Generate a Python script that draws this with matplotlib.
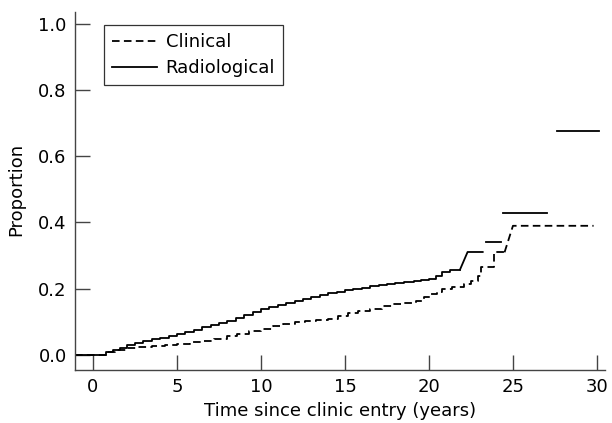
import matplotlib.pyplot as plt

# radiological progression (solid), step part
rad_t = [-1.07, 0.8, 1.2, 1.6, 2.0, 2.5, 3.0, 3.5, 4.0, 4.5, 5.0, 5.5, 6.0, 6.5, 7.0,
         7.5, 8.0, 8.5, 9.0, 9.5, 10.0, 10.5, 11.0, 11.5, 12.0, 12.5, 13.0, 13.5,
         14.0, 14.5, 15.0, 15.5, 16.0, 16.5, 17.0, 17.5, 18.0, 18.5, 19.1, 19.5,
         20.0, 20.4, 20.75, 21.25, 21.85]
rad_v = [0, 0.008, 0.015, 0.022, 0.030, 0.036, 0.043, 0.048, 0.053, 0.059, 0.065,
         0.071, 0.077, 0.084, 0.091, 0.097, 0.104, 0.112, 0.120, 0.130, 0.139,
         0.146, 0.152, 0.158, 0.164, 0.170, 0.176, 0.181, 0.186, 0.190, 0.195,
         0.200, 0.203, 0.207, 0.211, 0.214, 0.217, 0.220, 0.225, 0.227, 0.230,
         0.238, 0.250, 0.258, 0.258]
# radiological tail pieces
rad_tail_t = [21.85, 22.3, 23.2]
rad_tail_v = [0.258, 0.311, 0.311]
rad_seg_t = [[23.4, 24.3], [24.4, 27.0], [27.6, 30.1]]
rad_seg_v = [0.342, 0.428, 0.676]

# clinical progression (dashed)
cli_t = [-1.07, 0.8, 1.3, 2.0, 2.7, 3.5, 4.3, 5.0, 5.8, 6.5, 7.2, 8.0, 8.6, 9.3, 10.0,
         10.7, 11.3, 12.0, 12.6, 13.3, 14.0, 14.6, 15.2, 15.8, 16.5, 17.2, 17.8,
         18.5, 19.2, 19.7, 20.1, 20.5, 20.8, 21.4, 22.1, 22.5, 22.9, 23.1, 23.9, 24.5]
cli_v = [0, 0.008, 0.015, 0.020, 0.025, 0.028, 0.030, 0.033, 0.038, 0.043, 0.050,
         0.058, 0.065, 0.072, 0.079, 0.088, 0.095, 0.099, 0.102, 0.105, 0.110,
         0.118, 0.126, 0.132, 0.140, 0.149, 0.153, 0.158, 0.164, 0.174, 0.184,
         0.190, 0.200, 0.205, 0.214, 0.225, 0.240, 0.265, 0.310, 0.310]
cli_tail_t = [24.5, 25.0, 29.8]
cli_tail_v = [0.310, 0.390, 0.390]

plt.rcParams['font.family'] = ['DejaVu Sans']
fig = plt.figure(figsize=(6.12, 4.23), dpi=100)
ax = fig.add_axes([75/612, 1-370/423, 530/612, 358/423])

lw = 1.3
dash = (0, (4.2, 2.4))
ax.plot(cli_t, cli_v, drawstyle='steps-post', color='black', lw=lw, linestyle=dash, label='Clinical')
ax.plot(cli_tail_t, cli_tail_v, color='black', lw=lw, linestyle=dash)
ax.plot(rad_t, rad_v, drawstyle='steps-post', color='black', lw=lw, label='Radiological')
ax.plot(rad_tail_t, rad_tail_v, color='black', lw=lw)
for t, v in zip(rad_seg_t, rad_seg_v):
    ax.plot(t, [v, v], color='black', lw=lw)

ax.set_xlim(-1.07, 30.48)
ax.set_ylim(-0.045, 1.035)
ax.set_xticks([0, 5, 10, 15, 20, 25, 30])
ax.set_yticks([0.0, 0.2, 0.4, 0.6, 0.8, 1.0])
ax.set_yticklabels(['0.0', '0.2', '0.4', '0.6', '0.8', '1.0'])
for s in ['top', 'right']:
    ax.spines[s].set_visible(False)
for s in ['left', 'bottom']:
    ax.spines[s].set_color('#444444')
    ax.spines[s].set_linewidth(1.0)
ax.tick_params(direction='in', length=11, width=1.0, color='#444444', labelsize=13, pad=6)
ax.set_xlabel('Time since clinic entry (years)', fontsize=13, va='top')
ax.set_ylabel('Proportion', fontsize=13)
ax.xaxis.set_label_coords(0.5, -0.089)
ax.yaxis.set_label_coords(-0.094, 0.503)

leg = ax.legend(loc='upper left', bbox_to_anchor=(0.055, 0.964), fontsize=13, frameon=True,
                fancybox=False, edgecolor='black', handlelength=2.5, handletextpad=0.45,
                borderpad=0.45, labelspacing=0.45, borderaxespad=0)
leg.get_frame().set_linewidth(0.9)

fig.savefig('out.png', dpi=100)
